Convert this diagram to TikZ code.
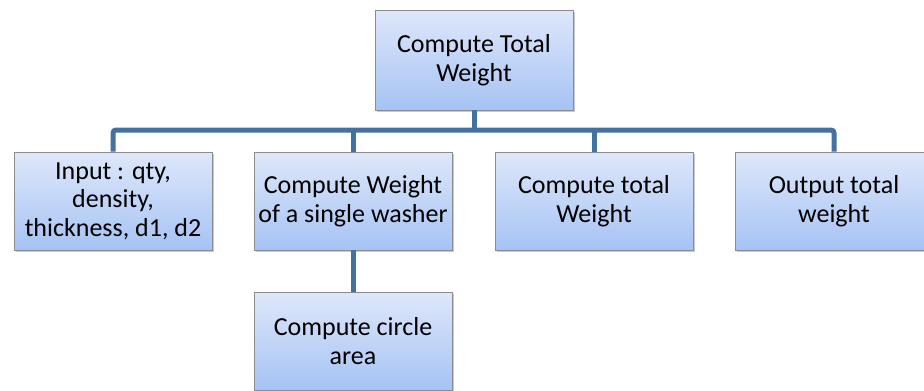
\documentclass[tikz,border=0pt]{standalone}
\usepackage{fontspec}
\setmainfont{Carlito}
\usetikzlibrary{shadows}
\definecolor{linkblue}{RGB}{68,114,160}
\definecolor{boxtop}{RGB}{222,231,250}
\definecolor{boxbot}{RGB}{166,195,244}
\definecolor{boxline}{RGB}{140,140,140}
\tikzset{
  box/.style={rectangle, draw=boxline, line width=0.8pt, top color=boxtop, bottom color=boxbot,
    minimum width=198pt, minimum height=98pt, align=center, inner sep=2pt,
    font=\fontsize{26}{28.5}\selectfont,
    drop shadow={shadow xshift=1.5pt, shadow yshift=-2pt, opacity=0.35, fill=black!60}},
  link/.style={draw=linkblue, line width=5pt, rounded corners=3pt}
}
\begin{document}
\begin{tikzpicture}[x=1pt,y=-1pt]
\useasboundingbox (0,0) rectangle (924,391);
\clip (0,0) rectangle (924,391);
\fill[white] (0,0) rectangle (924,391);
\node[box, minimum height=100pt] (top) at (474,60) {Compute Total\\Weight};
\node[box] (inp) at (113,201) {Input : qty,\\density,\\thickness, d1, d2};
\node[box] (single) at (353,201) {Compute Weight\\of a single washer};
\node[box] (total) at (594,201) {Compute total\\Weight};
\node[box] (out) at (834,201) {Output total\\weight};
\node[box] (circ) at (353,341) {Compute circle\\area};
\coordinate (bar) at (474,130);
\path[link] (top.south) -- (bar);
\path[link] (inp.north) |- (bar) -| (out.north);
\path[link] (single.north) -- (single.north |- bar);
\path[link] (total.north) -- (total.north |- bar);
\path[link] (single.south) -- (circ.north);
\end{tikzpicture}
\end{document}
